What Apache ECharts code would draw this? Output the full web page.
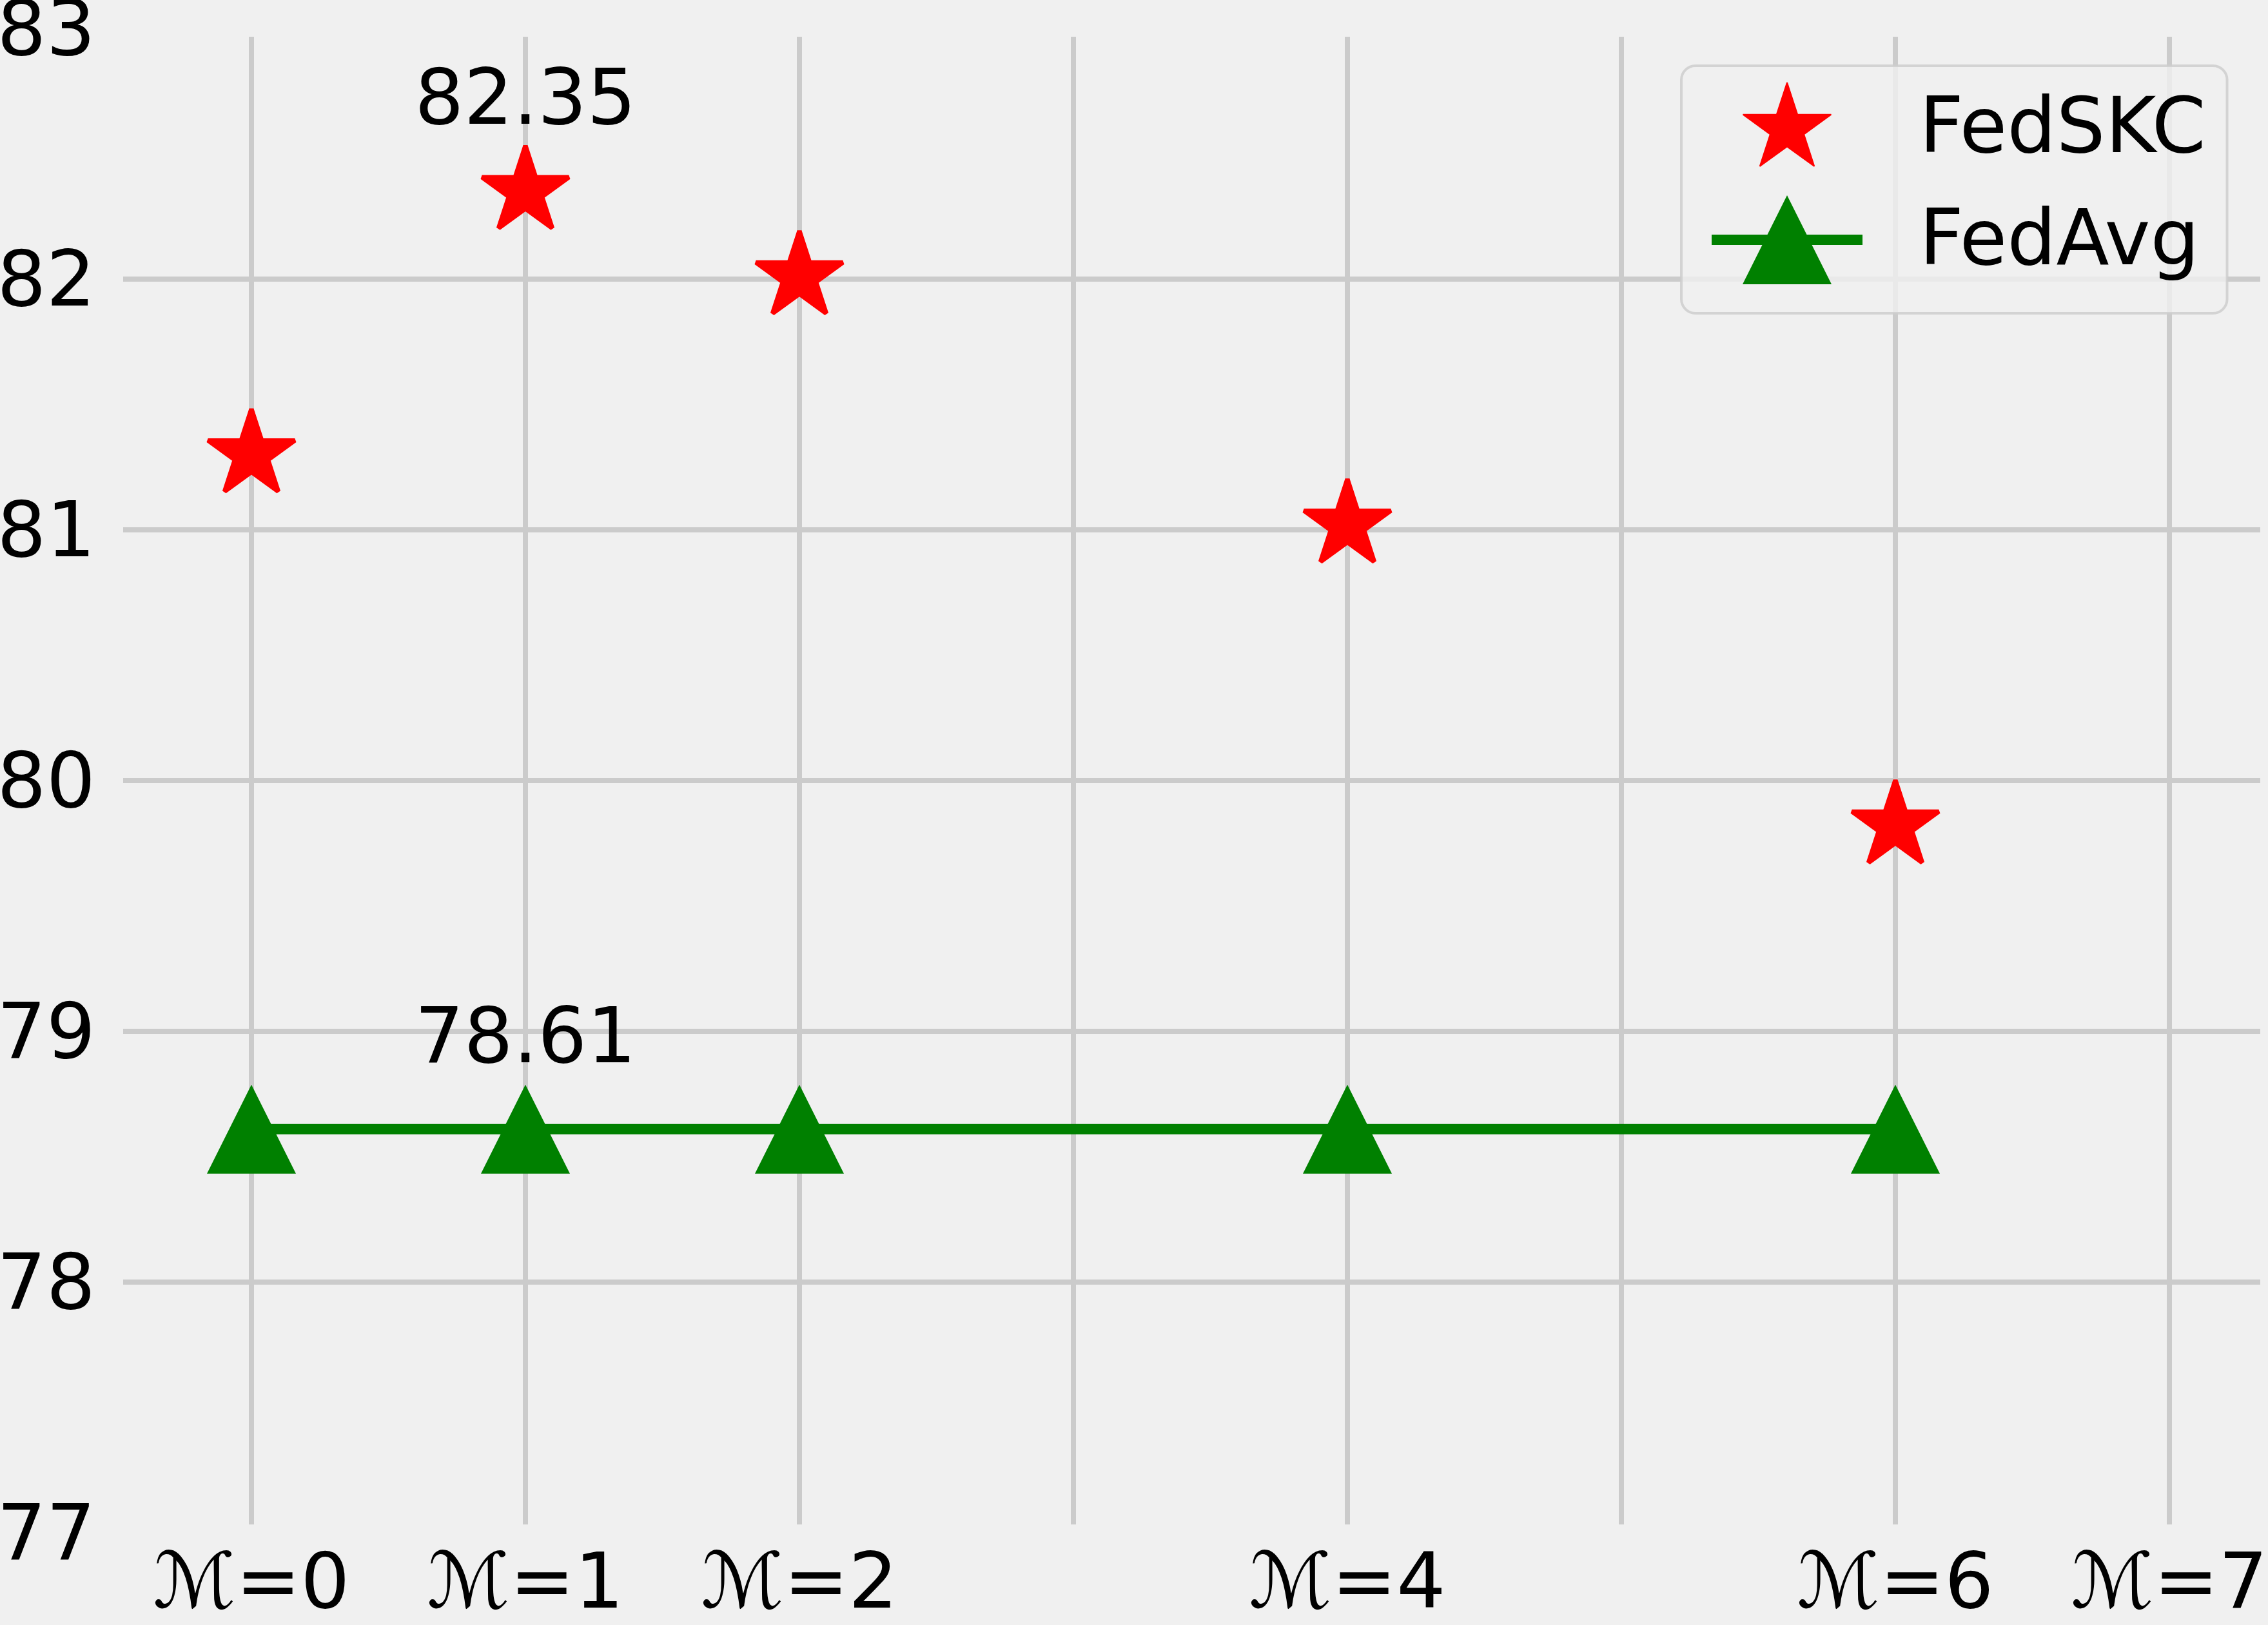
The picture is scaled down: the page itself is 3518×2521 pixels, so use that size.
<!DOCTYPE html>
<html>
<head>
<meta charset="utf-8">
<script src="https://cdn.jsdelivr.net/npm/echarts@6/dist/echarts.min.js"></script>
<style>
html,body{margin:0;padding:0;background:#f0f0f0;}
#chart{width:3518px;height:2521px;}
</style>
</head>
<body>
<div id="chart"></div>
<script>
// ---- data ----
const mValues = [0, 1, 2, 4, 6];
const fedSKC = [81.30, 82.35, 82.01, 81.02, 79.82];
const fedAvg = [78.61, 78.61, 78.61, 78.61, 78.61];
const seriesNames = ['FedSKC', 'FedAvg'];
const labelIndex = 1;
const xTickValues = [0, 1, 2, 4, 6, 7];
const xTickLabels = ['ℳ=0', 'ℳ=1', 'ℳ=2', 'ℳ=4', 'ℳ=6', 'ℳ=7'];
const yMin = 77, yMax = 83, yStep = 1;
const xMin = 0, xMax = 7, xStep = 1;

// ---- styling ----
const FONT = 'DejaVu Sans';
const GRIDC = '#cbcbcb';
const starPath = 'M0,-100 L22.45,-30.9 L95.11,-30.9 L36.33,11.8 L58.78,80.9 L0,38.2 L-58.78,80.9 L-36.33,11.8 L-95.11,-30.9 L-22.45,-30.9 Z';
// legend icons (box 234 x 172), padded with move-to points so the glyph sits where matplotlib puts it
const starLegend = 'path://M0,-112.5 M0,126.8 ' + starPath;
const avgLegend = 'path://M0,0 M234,172 M0,71 L234,71 L234,87 L0,87 Z M117,10 L186,148 L48,148 Z';

const nY = Math.round((yMax - yMin) / yStep) + 1;
const ySplitColors = [];
for (let i = 0; i < nY; i++) ySplitColors.push(i === 0 || i === nY - 1 ? 'rgba(0,0,0,0)' : GRIDC);

function mk(vals) {
  return vals.map((v, i) => ({
    value: [mValues[i], v],
    label: { show: i === labelIndex }
  }));
}
const labelCfg = {
  position: 'top', distance: 2,
  formatter: p => p.value[1].toFixed(2),
  fontFamily: FONT, fontSize: 120, lineHeight: 120, color: '#000'
};
const xRich = {
  m: {fontFamily: FONT, fontSize: 120, fontStyle: 'italic', lineHeight: 120, color: '#000'},
  t: {fontFamily: FONT, fontSize: 120, lineHeight: 120, color: '#000'}
};

const chart = echarts.init(document.getElementById('chart'), null, {renderer: 'canvas'});
chart.setOption({
  backgroundColor: '#f0f0f0',
  animation: false,
  grid: [
    {left: 191, right: 12, top: 44, bottom: 143, outerBoundsMode: 'none', containLabel: false},
    {left: 390, right: 153, top: 44, bottom: 143, outerBoundsMode: 'none', containLabel: false},
    {left: 390, right: 153, top: 57, bottom: 156, outerBoundsMode: 'none', containLabel: false}
  ],
  xAxis: [
    {gridIndex: 0, type: 'value', min: 0, max: 1, show: false},
    {gridIndex: 1, type: 'value', min: xMin, max: xMax, interval: xStep,
     axisLine: {show: false}, axisTick: {show: false}, splitLine: {show: false},
     axisLabel: {
       margin: 25, rich: xRich,
       formatter: v => {
         const i = xTickValues.indexOf(v);
         if (i < 0) return '';
         const s = xTickLabels[i];
         return '{m|' + s.charAt(0) + '}{t|' + s.slice(1) + '}';
       }
     }},
    {gridIndex: 2, type: 'value', min: xMin, max: xMax, interval: xStep,
     axisLine: {show: false}, axisTick: {show: false}, axisLabel: {show: false},
     splitLine: {show: true, lineStyle: {color: GRIDC, width: 8}}}
  ],
  yAxis: [
    {gridIndex: 0, type: 'value', min: yMin, max: yMax, interval: yStep,
     axisLine: {show: false}, axisTick: {show: false},
     axisLabel: {margin: 43, fontFamily: FONT, fontSize: 120, lineHeight: 20.6, verticalAlign: 'top', color: '#000'},
     splitLine: {show: true, lineStyle: {color: ySplitColors, width: 8}}},
    {gridIndex: 1, type: 'value', min: yMin, max: yMax, interval: yStep, show: false},
    {gridIndex: 2, type: 'value', min: 0, max: 1, show: false}
  ],
  legend: {
    left: 2608, top: 102, orient: 'vertical',
    padding: [16, 33, 21, 47],
    itemWidth: 234, itemHeight: 172, itemGap: 1,
    selectedMode: false,
    backgroundColor: 'rgba(240,240,240,0.8)',
    borderColor: 'rgba(204,204,204,0.8)', borderWidth: 4, borderRadius: 22,
    textStyle: {fontFamily: FONT, fontSize: 120, lineHeight: 140, color: '#000', padding: [0, 0, 0, 83]},
    data: [{name: seriesNames[0], icon: starLegend}, {name: seriesNames[1], icon: avgLegend}],
    z: 10
  },
  series: [
    {
      name: seriesNames[0], type: 'scatter', xAxisIndex: 1, yAxisIndex: 1,
      symbol: 'path://' + starPath, symbolSize: [134.7, 128.1], symbolOffset: [0, -6.8],
      itemStyle: {color: '#ff0000', opacity: 1, borderColor: '#ff0000', borderWidth: 7, borderJoin: 'bevel'},
      label: labelCfg,
      data: mk(fedSKC),
      z: 3
    },
    {
      name: seriesNames[1], type: 'line', xAxisIndex: 1, yAxisIndex: 1,
      symbol: 'triangle', symbolSize: 138, showAllSymbol: true,
      lineStyle: {color: '#008000', width: 16},
      itemStyle: {color: '#008000', opacity: 1},
      label: Object.assign({}, labelCfg, {distance: 6}),
      data: mk(fedAvg),
      z: 2
    }
  ]
});
</script>
</body>
</html>
